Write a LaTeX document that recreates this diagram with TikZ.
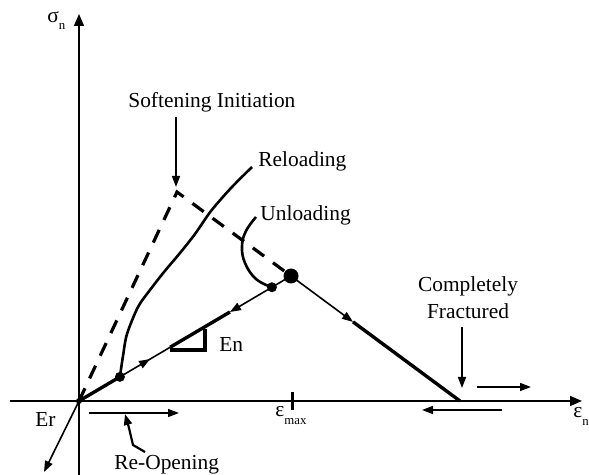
\documentclass[tikz,border=0pt]{standalone}
\usepackage{fontspec}
\setmainfont{Liberation Serif}
\usetikzlibrary{arrows.meta,calc,positioning,decorations.markings}
\newcommand{\lowtext}[2]{\raisebox{#1}{\fontsize{6.4}{7}\selectfont #2}}

\begin{document}
\begin{tikzpicture}[x=0.5pt, y=-0.5pt,
    every node/.style={font=\fontsize{10.7}{13}\selectfont, inner sep=0pt},
    axis/.style={line width=0.8pt, -{Triangle[length=6pt,width=5pt]}},
    thin line/.style={line width=0.8pt},
    thick line/.style={line width=1.7pt},
    curve line/.style={line width=1.3pt},
    tip/.style={-{Triangle[length=5.5pt,width=4pt]}},
    dashline/.style={line width=1.6pt, dash pattern=on 7pt off 5.5pt},
    dot/.style={circle, fill=black, inner sep=0pt, minimum size=#1},
    midarrow/.style={postaction={decorate}, decoration={markings, mark=at position #1 with {\arrow{Triangle[length=5.5pt,width=4pt]}}}}
  ]
  \useasboundingbox (0,0) rectangle (589,475);

  % axes
  \coordinate (O) at (79,401);
  \coordinate (xstart) at (10,401);
  \coordinate (xend) at (582,401);
  \coordinate (ystart) at (79,475);
  \coordinate (yend) at (79,14);
  \draw[axis] (xstart) -- (xend);
  \draw[axis] (ystart) -- (yend);
  \node[anchor=base west] (sigma) at (47,23) {σ\lowtext{-3.5pt}{n}};
  \node[anchor=base west] (eps) at (573,418) {ε\lowtext{-4pt}{n}};

  % key points
  \coordinate (peak) at (291,276);
  \coordinate (init) at (177,192);
  \coordinate (frac) at (460,401);
  \coordinate (dot1) at ($(O)!0.193!(peak)$);
  \coordinate (dot2) at ($(O)!0.91!(peak)$);
  \coordinate (m1) at ($(O)!0.43!(peak)$);
  \coordinate (m2) at ($(O)!0.712!(peak)$);
  \coordinate (m3) at ($(peak)!0.367!(frac)$);

  % envelope
  \draw[dashline] (O) -- (init) -- ($(peak)!0.06!(init)$);
  \draw[thick line] (O) -- (dot1);
  \draw[thin line, midarrow=0.6] (dot1) -- (m1);
  \draw[thick line] (m1) -- (m2);
  \draw[thin line, tip] (peak) -- (m2);
  \draw[thin line, tip] (peak) -- (m3);
  \draw[thick line] (m3) -- (frac);
  \draw[thick line] (170,350) -- (205,350) -- (205,329);
  \node[anchor=base west] (En) at (219,352) {En};

  % strain max
  \coordinate (emax) at (292,401);
  \draw[line width=1.5pt] ([yshift=4.5pt]emax) -- ([yshift=-4.5pt]emax);
  \node[anchor=base west] (emaxlab) at (275,417) {ε\lowtext{-4pt}{max}};

  % reloading and unloading
  \node[anchor=base west] (reload) at (258,167) {Reloading};
  \node[anchor=base west] (unload) at (260,221) {Unloading};
  \coordinate (reloadend) at (252,167);
  \coordinate (unloadend) at (256,217);
  \draw[curve line] plot[smooth, tension=0.5] coordinates {(dot1) (123,356) (127,334) (138,307) (150,290) (164,272) (180,253) (195,234) (211,211) (231,188) (reloadend)};
  \draw[curve line] plot[smooth, tension=0.7] coordinates {(dot2) (256,279) (245,263) (242,246) (246,231) (unloadend)};

  % dots
  \node[dot=3pt] (d0) at (O) {};
  \node[dot=5pt] (d1) at (dot1) {};
  \node[dot=5pt] (d2) at (dot2) {};
  \node[dot=7.5pt] (dp) at (peak) {};

  % softening initiation
  \node[anchor=base west] (soft) at (128,108) {Softening Initiation};
  \coordinate (softtip) at (176,187);
  \draw[thin line, tip] ([yshift=-2.2pt]soft.south -| softtip) -- (softtip);

  % completely fractured
  \node[anchor=base] (compl) at (468,292) {Completely};
  \node[below=3.2pt of compl] (fract) {Fractured};
  \coordinate (fractip) at (462,388);
  \draw[thin line, tip] ([yshift=-4pt]fract.south -| fractip) -- (fractip);
  \coordinate (ra) at (477,387);
  \coordinate (rb) at (531,387);
  \coordinate (la) at (502,410);
  \coordinate (lb) at (422,410);
  \draw[thin line, tip] (ra) -- (rb);
  \draw[thin line, tip] (la) -- (lb);

  % re-opening
  \coordinate (ertip) at (44,472);
  \draw[thin line, tip] (O) -- (ertip);
  \node[anchor=base west] (Er) at (35,427) {Er};
  \coordinate (oa) at (89,413);
  \coordinate (ob) at (179,413);
  \draw[thin line, tip] (oa) -- (ob);
  \node[anchor=base west] (reopen) at (114,470) {Re-Opening};
  \coordinate (reoptip) at (125,414);
  \draw[line width=1.1pt, tip] (145,452) -- (133,445) -- (129,428) -- (reoptip);
\end{tikzpicture}
\end{document}
